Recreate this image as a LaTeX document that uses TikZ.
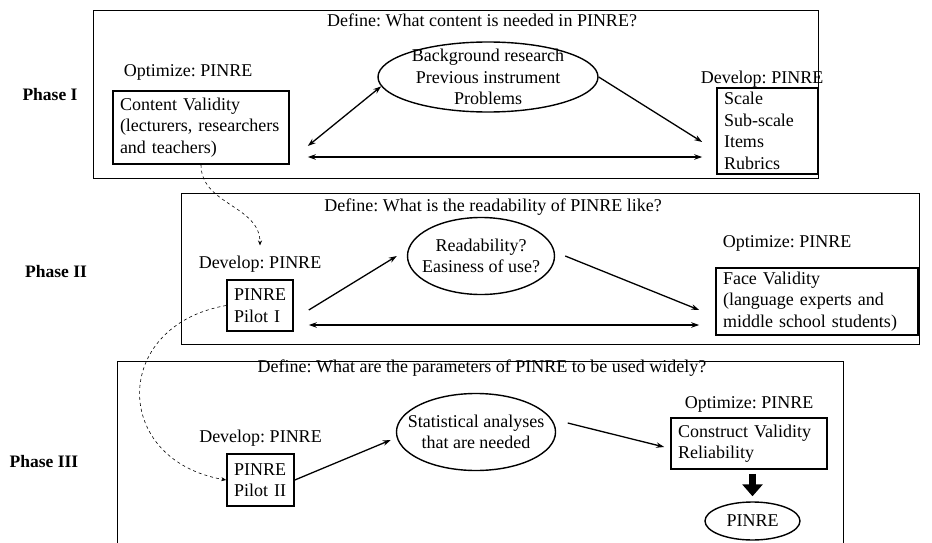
\documentclass[tikz,border=0pt]{standalone}
\usepackage{fontspec}
\setmainfont{Liberation Serif}
\usetikzlibrary{shapes.geometric,arrows.meta,positioning}
\frenchspacing

\begin{document}
\begin{tikzpicture}[x=1pt,y=-1pt,>={Stealth[length=8pt,width=5.5pt]},
    font=\fontsize{18}{21.5}\selectfont,
    phase/.style={draw,line width=0.8pt},
    head/.style={inner sep=0pt,font=\fontsize{17.5}{21.5}\selectfont\bfseries},
    lbl/.style={inner sep=0pt},
    box/.style={draw,line width=1.6pt,align=left,inner xsep=7pt,inner ysep=2pt},
    oval/.style={ellipse,draw,line width=1.4pt,align=center,inner sep=-12pt},
    link/.style={line width=1.3pt},
    hint/.style={dashed,line width=0.6pt,-{Stealth[length=5pt,width=4pt]}},
    fat/.style={line width=7pt,-{Triangle[width=20pt,length=12pt]}}]
  \useasboundingbox (0,0) rectangle (932,543);

  \draw[phase] (93,10) rectangle (818,178);
  \draw[phase] (181,193) rectangle (919,344);
  \draw[phase] (117,543) -- (117,361) -- (843,361) -- (843,543);

  \node[head] (ph1) at (50,95)  {Phase I};
  \node[head] (ph2) at (56,272) {Phase II};
  \node[head] (ph3) at (44,462) {Phase III};

  % Phase I
  \node[lbl] (title1) at (482,20) {Define: What content is needed in PINRE?};
  \node[box,text width=162pt,minimum height=73pt] (cv) at (201,127.5)
    {Content Validity\\(lecturers, researchers\\and teachers)};
  \node[lbl] (opt1) at (188,72) {Optimize: PINRE};
  \node[oval,minimum width=220pt,minimum height=70pt] (bg) at (488,77)
    {Background research\\Previous instrument\\Problems};
  \node[box,text width=87pt,minimum height=86pt] (dev1) at (767.5,131)
    {Scale\\Sub-scale\\Items\\Rubrics};
  \node[lbl] (devlab1) at (762,79) {Develop: PINRE};

  % Phase II
  \node[lbl] (title2) at (493,207) {Define: What is the readability of PINRE like?};
  \node[box,text width=52pt,minimum height=51pt] (pilot1) at (260,305.5)
    {PINRE\\Pilot I};
  \node[lbl] (devlab2) [above=7pt of pilot1] {Develop: PINRE};
  \node[oval,minimum width=147pt,minimum height=77pt] (read) at (481,256)
    {Readability?\\Easiness of use?};
  \node[box,text width=188pt,minimum height=67pt] (face) at (817,301.5)
    {Face Validity\\(language experts and\\middle school students)};
  \node[lbl] (opt2) at (787,243) {Optimize: PINRE};

  % Phase III
  \node[lbl] (title3) at (482,368) {Define: What are the parameters of PINRE to be used widely?};
  \node[box,text width=53pt,minimum height=52pt] (pilot2) at (260.5,480)
    {PINRE\\Pilot II};
  \node[lbl] (devlab3) [above=7pt of pilot2] {Develop: PINRE};
  \node[oval,minimum width=155pt,minimum height=77pt] (stat) at (476,432)
    {Statistical analyses\\that are needed};
  \node[box,text width=142pt,minimum height=51pt] (cons) at (749,443.5)
    {Construct Validity\\Reliability};
  \node[lbl] (opt3) [above=5pt of cons] {Optimize: PINRE};
  \node[oval,minimum width=95pt,minimum height=38pt] (final) at (752.5,521) {PINRE};

  \path[<->,link]
    ([xshift=18pt,yshift=-18.5pt]cv.east) edge (bg.185)
    ([xshift=18pt,yshift=-29.5pt]cv.east) edge ([xshift=-14pt,yshift=-26pt]dev1.west)
    ([xshift=15pt,yshift=-19.5pt]pilot1.east) edge ([xshift=-16pt,yshift=-23.5pt]face.west);
  \path[->,link]
    (bg.east) edge ([xshift=-14pt,yshift=-11pt]dev1.west)
    ([xshift=15pt,yshift=-4.5pt]pilot1.east) edge ([xshift=-10pt]read.west)
    ([xshift=10pt]read.east) edge ([xshift=-16pt,yshift=-8.5pt]face.west)
    (pilot2.east) edge ([xshift=-5pt,yshift=-8pt]stat.west)
    ([xshift=11.5pt,yshift=9pt]stat.east) edge ([xshift=-6pt,yshift=-3.5pt]cons.west);
  \draw[fat,shorten <=4pt,shorten >=5pt] (final.north |- cons.south) -- (final.north);

  \draw[hint] (cv.south) .. controls +(0,40) and +(0,-40) .. ([yshift=10pt]devlab2.north);
  \draw[hint] (pilot1.west) .. controls +(-115,20) and +(-115,-20) .. (pilot2.west);
\end{tikzpicture}
\end{document}
